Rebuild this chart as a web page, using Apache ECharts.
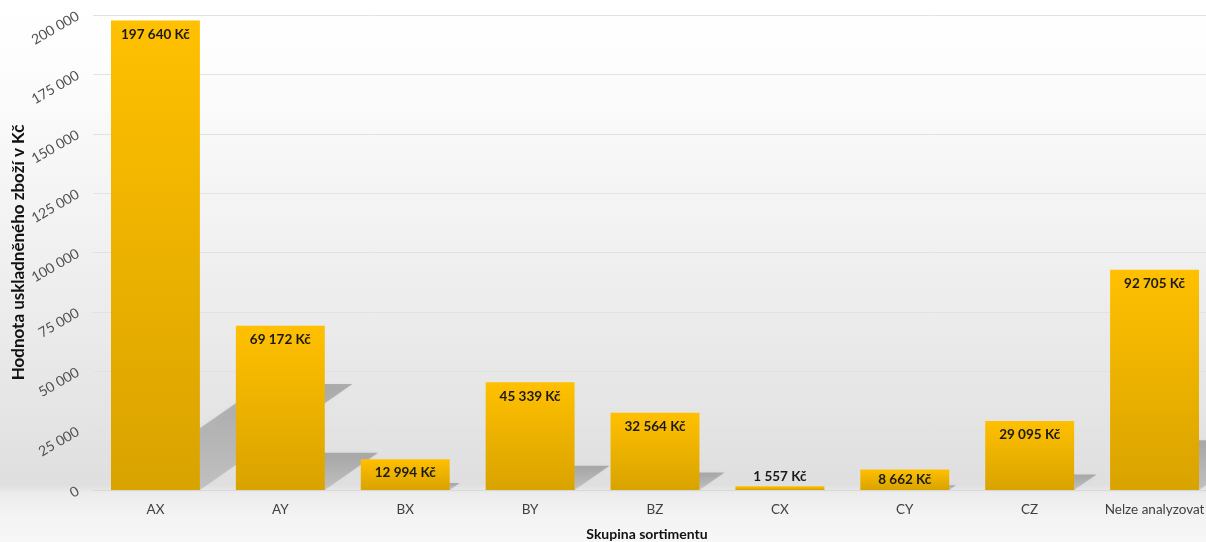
<!DOCTYPE html>
<html>
<head>
<meta charset="utf-8">
<script src="https://cdn.jsdelivr.net/npm/echarts@6/dist/echarts.min.js"></script>
<style>
  html, body { margin: 0; padding: 0; background: #ffffff; }
  #chart { width: 1206px; height: 542px; }
</style>
</head>
<body>
<div id="chart"></div>
<script>
// Hodnota uskladněného zboží podle skupin sortimentu (ABC/XYZ)
const categories = ['AX', 'AY', 'BX', 'BY', 'BZ', 'CX', 'CY', 'CZ', 'Nelze analyzovat'];
const values = [197640, 69172, 12994, 45339, 32564, 1557, 8662, 29095, 92705];
const yTicks = { min: 0, max: 200000, interval: 25000 };
const yAxisTitle = 'Hodnota uskladněného zboží v Kč';
const xAxisTitle = 'Skupina sortimentu';

const FONT = 'Lato, "Open Sans", sans-serif';
const BAR_RATIO = 0.712;

function formatThousands(v) {
  return String(v).replace(/\B(?=(\d{3})+(?!\d))/g, ' ');
}

// label placement follows the available room inside each bar
function labelFor(v) {
  if (v < 5000) return { position: 'top', distance: 3 };
  if (v < 10000) return { position: 'inside' };
  return { position: 'insideTop', distance: 7 };
}

const barData = values.map(v => ({ value: v, label: labelFor(v) }));
const shadowData = values.map((v, i) => [i, v]);

const chart = echarts.init(document.getElementById('chart'), null, { renderer: 'canvas' });

chart.setOption({
  animation: false,
  graphic: [{
    type: 'rect',
    z: -10,
    silent: true,
    shape: { x: 0, y: 0, width: 1206, height: 542 },
    style: {
      fill: new echarts.graphic.LinearGradient(0, 0, 0, 1, [
        { offset: 0, color: '#ffffff' },
        { offset: 0.12, color: '#fdfdfd' },
        { offset: 0.42, color: '#f2f2f2' },
        { offset: 0.75, color: '#e5e5e5' },
        { offset: 0.895, color: '#dfdfdf' },
        { offset: 0.91, color: '#ececec' },
        { offset: 0.95, color: '#f3f3f3' },
        { offset: 1, color: '#f7f7f7' }
      ])
    }
  }],
  grid: {
    left: 93, right: -11, top: 15, bottom: 52,
    outerBoundsMode: 'none'
  },
  xAxis: {
    type: 'category',
    data: categories,
    name: xAxisTitle,
    nameLocation: 'middle',
    nameGap: 37,
    nameMoveOverlap: false,
    nameTextStyle: {
      fontFamily: FONT, fontSize: 14, fontWeight: 'bold', color: '#111111',
      padding: [0, 16, 0, 0]
    },
    axisLine: { show: true, lineStyle: { color: '#d9d9d9', width: 1 } },
    axisTick: { show: false },
    axisLabel: {
      fontFamily: FONT, fontSize: 13.5, color: '#404040', margin: 13, interval: 0
    },
    splitLine: { show: false }
  },
  yAxis: {
    type: 'value',
    min: yTicks.min,
    max: yTicks.max,
    interval: yTicks.interval,
    name: yAxisTitle,
    nameLocation: 'middle',
    nameGap: 66,
    nameMoveOverlap: false,
    nameTextStyle: {
      fontFamily: FONT, fontSize: 17, fontWeight: 'bold', color: '#111111'
    },
    axisLine: { show: false },
    axisTick: { show: false },
    axisLabel: {
      rotate: 30,
      margin: 15,
      fontFamily: FONT, fontSize: 14, color: '#505050',
      formatter: v => formatThousands(v)
    },
    splitLine: { show: true, lineStyle: { color: '#e2e2e2', width: 1 } }
  },
  series: [
    {
      // floor shadow cast behind each bar
      type: 'custom',
      z: 1,
      silent: true,
      data: shadowData,
      encode: { x: 0, y: 1 },
      renderItem: function (params, api) {
        const idx = api.value(0);
        const v = api.value(1);
        const base = api.coord([idx, 0]);
        const top = api.coord([idx, v]);
        const h = base[1] - top[1];
        const w = api.size([1, 0])[0] * BAR_RATIO;
        const x0 = base[0] - w / 2;
        const x1 = base[0] + w / 2;
        const dx = h * 0.325;
        const dy = h * 0.226;
        return {
          type: 'polygon',
          shape: {
            points: [
              [x0, base[1]], [x1, base[1]],
              [x1 + dx, base[1] - dy], [x0 + dx, base[1] - dy]
            ]
          },
          style: {
            fill: new echarts.graphic.LinearGradient(0, 1, 0, 0, [
              { offset: 0, color: 'rgba(0,0,0,0.12)' },
              { offset: 1, color: 'rgba(0,0,0,0.24)' }
            ]),
            shadowBlur: 4,
            shadowColor: 'rgba(0,0,0,0.15)'
          }
        };
      }
    },
    {
      type: 'bar',
      z: 2,
      data: barData,
      barWidth: (BAR_RATIO * 100) + '%',
      itemStyle: {
        color: new echarts.graphic.LinearGradient(0, 0, 0, 1, [
          { offset: 0, color: '#ffc000' },
          { offset: 1, color: '#d9a300' }
        ])
      },
      label: {
        show: true,
        fontFamily: FONT,
        fontSize: 13.5,
        fontWeight: 'bold',
        color: '#1a1a1a',
        formatter: p => formatThousands(p.value) + ' Kč'
      }
    }
  ]
});
</script>
</body>
</html>
